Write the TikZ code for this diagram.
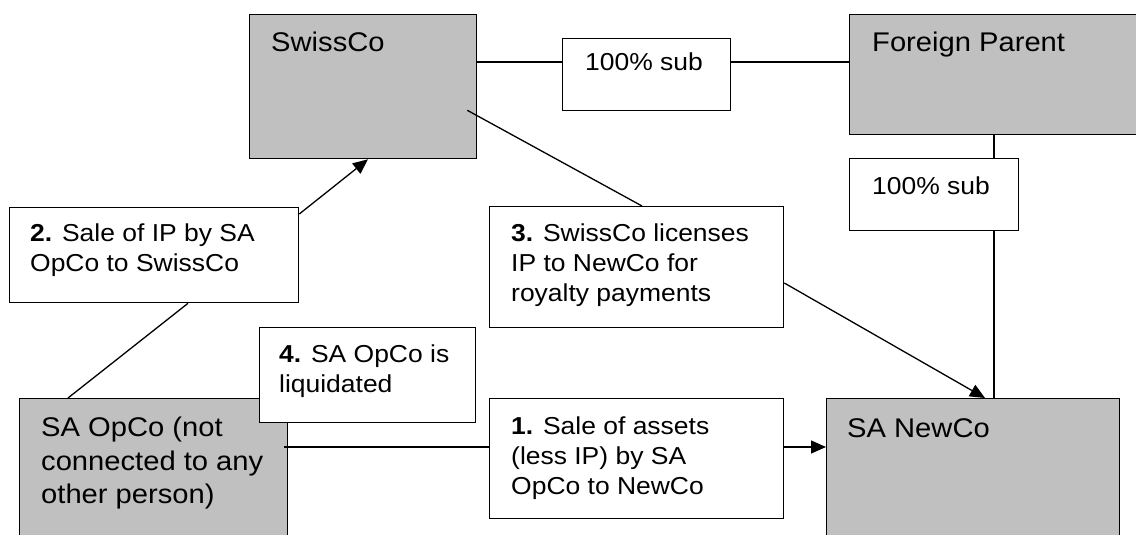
\documentclass[tikz,border=0pt]{standalone}
\usepackage{fontspec}
\setmainfont{Liberation Sans}[FakeStretch=1.08]
\usetikzlibrary{positioning,arrows.meta}

\definecolor{firmgray}{HTML}{C0C0C0}

\tikzset{
  firm/.style={draw, fill=firmgray, line width=1.3pt, anchor=north west, inner sep=0pt},
  note/.style={draw, fill=white, line width=1.3pt, anchor=north west, inner sep=0pt},
  title/.style={inner sep=0pt, align=left, font=\fontsize{27}{33.5}\selectfont},
  txt/.style={inner sep=0pt, align=left, font=\fontsize{24.5}{30}\selectfont},
  link/.style={line width=1.3pt},
  flow/.style={line width=1.3pt, -{Triangle[length=15pt,width=13pt]}}
}

\begin{document}
\begin{tikzpicture}[x=1pt,y=-1pt]

	\useasboundingbox (0,0) rectangle (1136,535);
	\clip (0,0) rectangle (1136,535);

	% companies
	\node[firm, minimum width=227pt, minimum height=144pt] (swiss) at (249,14) {};
	\node[firm, minimum width=320pt, minimum height=120pt] (parent) at (849,14) {};
	\node[firm, minimum width=268pt, minimum height=200pt] (opco) at (19,398) {};
	\node[firm, minimum width=293pt, minimum height=200pt] (newco) at (826,398) {};

	% notes
	\node[note, minimum width=168pt, minimum height=72pt] (subtop) at (562,38) {};
	\node[note, minimum width=169pt, minimum height=72pt] (subright) at (849,158) {};
	\node[note, minimum width=289pt, minimum height=95pt] (ipsale) at (9,207) {};
	\node[note, minimum width=216pt, minimum height=95pt] (liquid) at (259,327) {};
	\node[note, minimum width=294pt, minimum height=121pt] (licence) at (489,206) {};
	\node[note, minimum width=294pt, minimum height=120pt] (assetsale) at (489,398) {};

	% texts
	\node[title, below right=18pt and 22pt of swiss.north west] (swisstxt) {SwissCo};
	\node[title, below right=18pt and 23pt of parent.north west] (parenttxt) {Foreign Parent};
	\node[title, below right=19pt and 22pt of opco.north west] (opcotxt) {SA OpCo (not\\connected to any\\other person)};
	\node[title, below right=20pt and 21pt of newco.north west] (newcotxt) {SA NewCo};

	\node[txt, below right=15pt and 23pt of subtop.north west] (subtoptxt) {100\% sub};
	\node[txt, below right=19pt and 23pt of subright.north west] (subrighttxt) {100\% sub};
	\node[txt, below right=17pt and 21pt of ipsale.north west] (ipsaletxt) {\textbf{2.} Sale of IP by SA\\OpCo to SwissCo};
	\node[txt, below right=18pt and 20pt of liquid.north west] (liquidtxt) {\textbf{4.} SA OpCo is\\liquidated};
	\node[txt, below right=18pt and 22pt of licence.north west] (licencetxt) {\textbf{3.} SwissCo licenses\\IP to NewCo for\\royalty payments};
	\node[txt, below right=19pt and 22pt of assetsale.north west] (assetsaletxt) {\textbf{1.} Sale of assets\\(less IP) by SA\\OpCo to NewCo};

	% ownership
	\draw[link] ([yshift=-48pt]swiss.north east) -- ([yshift=-24pt]subtop.north west);
	\draw[link] ([yshift=-24pt]subtop.north east) -- ([yshift=-48pt]parent.north west);
	\draw[link] ([xshift=145pt]parent.south west) -- ([xshift=145pt]subright.north west);
	\draw[link] ([xshift=145pt]subright.south west) -- ([xshift=168pt]newco.north west);

	% steps
	\draw[link] ([xshift=49pt]opco.north west) -- ([xshift=179pt]ipsale.south west);
	\draw[flow] ([yshift=-7pt]ipsale.north east) -- ([xshift=119pt]swiss.south west);
	\draw[link] ([xshift=-10pt,yshift=49pt]swiss.south east) -- ([xshift=153pt]licence.north west);
	\draw[flow] ([yshift=-77pt]licence.north east) -- ([xshift=159pt]newco.north west);
	\draw[link] ([xshift=-4pt,yshift=-49pt]opco.north east) -- ([yshift=-49pt]assetsale.north west);
	\draw[flow] ([yshift=-49pt]assetsale.north east) -- ([yshift=-49pt]newco.north west);

\end{tikzpicture}
\end{document}
